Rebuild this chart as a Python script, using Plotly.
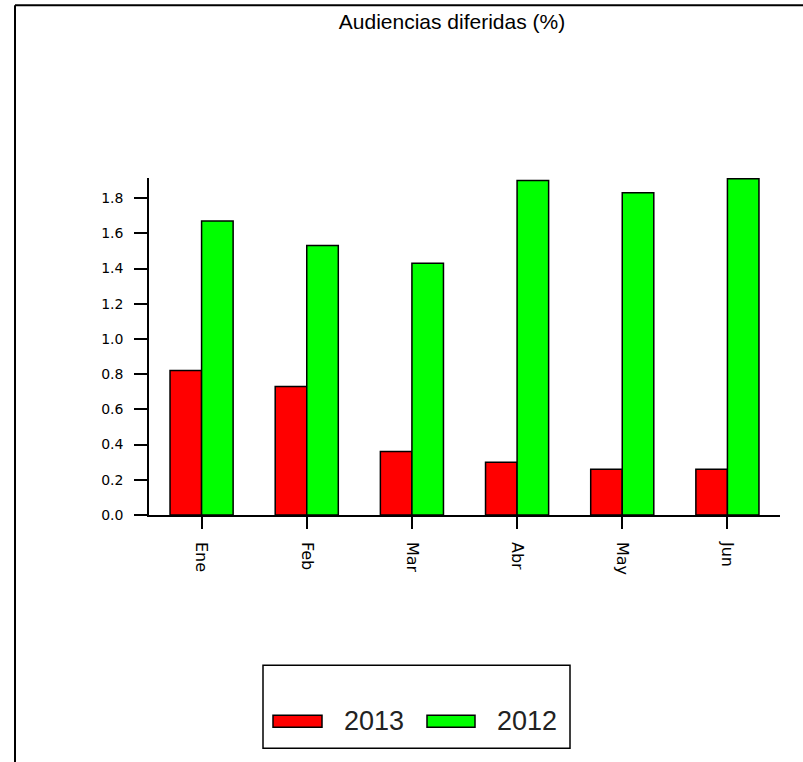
import plotly.graph_objects as go

# ---- data ----
months = ["Ene", "Feb", "Mar", "Abr", "May", "Jun"]
series_names = ["2013", "2012"]
values_2013 = [0.82, 0.73, 0.36, 0.30, 0.26, 0.26]
values_2012 = [1.67, 1.53, 1.43, 1.90, 1.83, 1.91]
y_ticks = [0.0, 0.2, 0.4, 0.6, 0.8, 1.0, 1.2, 1.4, 1.6, 1.8]
title_text = "Audiencias diferidas (%)"
colors = ["#ff0000", "#00ff00"]

# ---- layout geometry (window pixels; page body margin removed) ----
W, H = 803, 762
PLOT_L, PLOT_R, PLOT_T, PLOT_B = 149, 780, 178, 515.5
ML, MR, MT, MB = PLOT_L, W - PLOT_R, PLOT_T, H - PLOT_B
PW = W - ML - MR
PH = H - MT - MB


def px(x):
    return (x - ML) / PW


def py(y):
    return (H - MB - y) / PH


fig = go.Figure()
for name, vals, col in zip(series_names, [values_2013, values_2012], colors):
    fig.add_trace(go.Bar(
        x=months, y=vals, name=name,
        marker=dict(color=col, line=dict(color="black", width=1.5)),
        showlegend=False,
    ))

shapes = []
# outer frame (partially visible)
shapes.append(dict(type="line", xref="paper", yref="paper",
                   x0=px(15), y0=py(5), x1=px(815), y1=py(5),
                   line=dict(color="black", width=2)))
shapes.append(dict(type="line", xref="paper", yref="paper",
                   x0=px(15), y0=py(5), x1=px(15), y1=py(775),
                   line=dict(color="black", width=2)))
# x-axis extension left of y axis
shapes.append(dict(type="line", xref="paper", yref="paper",
                   x0=px(136), y0=0, x1=0, y1=0,
                   line=dict(color="black", width=1.5)))
# legend box
shapes.append(dict(type="rect", xref="paper", yref="paper",
                   x0=px(263), y0=py(666), x1=px(570), y1=py(749),
                   line=dict(color="black", width=1.5), fillcolor="white"))
annotations = []
leg = [(273, 322, 342), (427, 475, 495)]
for (sx0, sx1, tx), name, col in zip(leg, series_names, colors):
    shapes.append(dict(type="rect", xref="paper", yref="paper",
                       x0=px(sx0), y0=py(716), x1=px(sx1), y1=py(728),
                       line=dict(color="black", width=1.5), fillcolor=col))
    annotations.append(dict(xref="paper", yref="paper", x=px(tx), y=py(722),
                            xanchor="left", yanchor="middle", text=name,
                            showarrow=False,
                            font=dict(family="Liberation Sans, Arial", size=27,
                                      color="#222")))

fig.update_layout(
    width=W, height=H,
    margin=dict(l=ML, r=MR, t=MT, b=MB, pad=0),
    paper_bgcolor="white", plot_bgcolor="white",
    barmode="group", bargap=0.4, bargroupgap=0,
    title=dict(text=title_text, x=px(452), xref="paper", xanchor="center",
               y=1 - 22 / H, yref="container", yanchor="middle",
               font=dict(family="Liberation Sans, Arial", size=21, color="black")),
    xaxis=dict(showline=True, linecolor="black", linewidth=1.5,
               ticks="outside", ticklen=12, tickcolor="black", tickwidth=1.5,
               tickangle=90, ticklabelstandoff=10,
               tickfont=dict(family="DejaVu Sans", size=16, color="black"),
               showgrid=False, zeroline=False, range=[-0.5, 5.5]),
    yaxis=dict(showline=True, linecolor="black", linewidth=1.5,
               ticks="outside", ticklen=13, tickcolor="black", tickwidth=1.5,
               tickvals=y_ticks, tickformat=".1f", ticklabelstandoff=8,
               tickfont=dict(family="DejaVu Sans", size=14, color="black"),
               showgrid=False, zeroline=False, range=[0, 1.914]),
    shapes=shapes,
    annotations=annotations,
    showlegend=False,
)

fig.write_html(
    "out.html",
    config={"displayModeBar": False},
    post_script="document.body.style.margin='0px';document.body.style.overflow='hidden';",
)
